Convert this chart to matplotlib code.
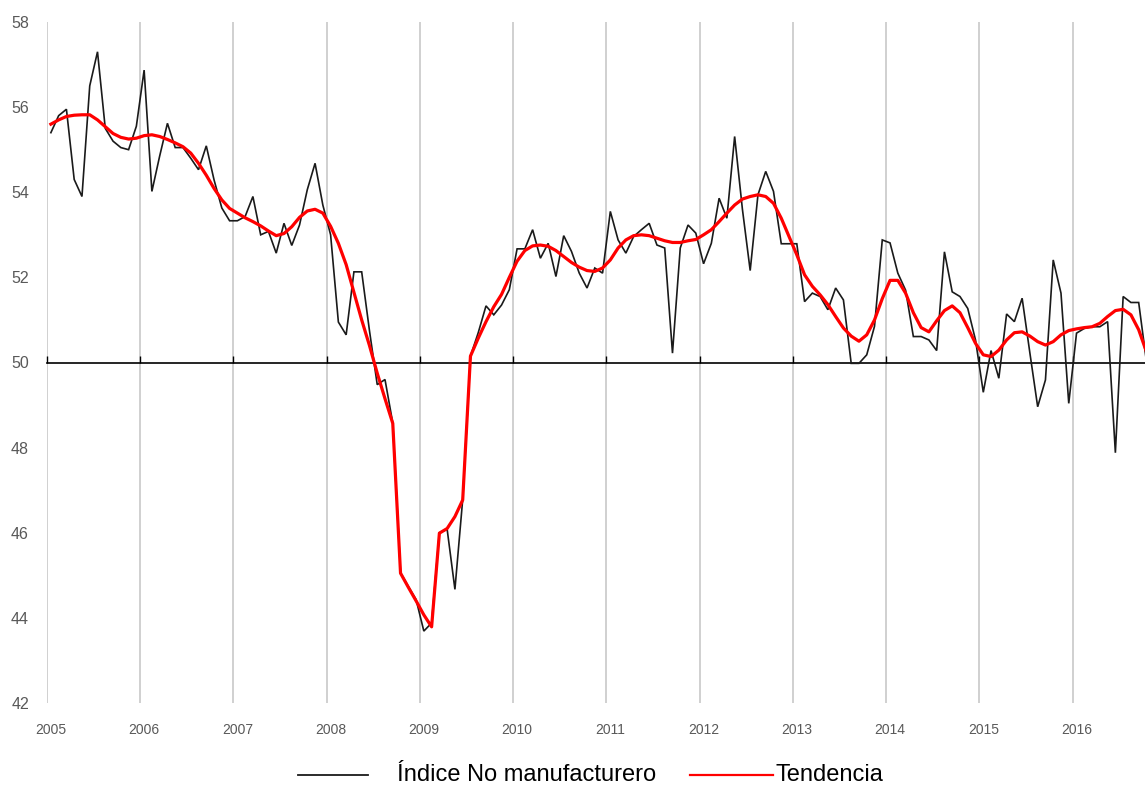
import numpy as np
import matplotlib
matplotlib.use("Agg")
import matplotlib.pyplot as plt
from matplotlib.transforms import blended_transform_factory
from matplotlib.lines import Line2D

# ---- data (monthly, Jan 2005 .. Oct 2016) ----
start_year = 2005
indice = [
    55.4, 55.8, 55.95, 54.3, 53.9, 56.5, 57.3, 55.5, 55.2, 55.05, 55.0, 55.55,
    56.87, 54.02, 54.85, 55.62, 55.05, 55.05, 54.8, 54.53, 55.09, 54.29, 53.63, 53.33,
    53.33, 53.43, 53.9, 53.0, 53.08, 52.57, 53.27, 52.75, 53.23, 54.06, 54.68, 53.7,
    53.0, 50.95, 50.65, 52.13, 52.13, 50.75, 49.48, 49.6, 48.58, 45.06, 44.74, 44.43,
    43.69, 43.88, 46.0, 46.08, 44.67, 46.78, 50.15, 50.7, 51.33, 51.12, 51.35, 51.71,
    52.67, 52.67, 53.12, 52.45, 52.8, 52.02, 52.98, 52.61, 52.1, 51.75, 52.22, 52.1,
    53.55, 52.88, 52.57, 52.96, 53.12, 53.27, 52.76, 52.69, 50.22, 52.69, 53.23, 53.04,
    52.32, 52.8, 53.86, 53.39, 55.31, 53.6, 52.16, 53.94, 54.49, 54.02, 52.79, 52.79,
    52.79, 51.43, 51.63, 51.55, 51.24, 51.75, 51.47, 49.98, 49.98, 50.18, 50.85, 52.88,
    52.81, 52.1, 51.7, 50.61, 50.61, 50.53, 50.28, 52.6, 51.66, 51.55, 51.27, 50.53,
    49.3, 50.28, 49.63, 51.14, 50.96, 51.51, 50.22, 48.96, 49.59, 52.41, 51.63, 49.04,
    50.69, 50.8, 50.84, 50.84, 50.96, 47.88, 51.55, 51.41, 51.41, 50.02,
]
tendencia = [
    55.6, 55.7, 55.78, 55.81, 55.82, 55.82, 55.7, 55.54, 55.38, 55.29, 55.25, 55.27,
    55.33, 55.35, 55.31, 55.24, 55.16, 55.07, 54.92, 54.68, 54.4, 54.09, 53.82, 53.62,
    53.51, 53.4, 53.31, 53.21, 53.09, 52.98, 53.03, 53.19, 53.41, 53.56, 53.6, 53.51,
    53.2, 52.8, 52.3, 51.65, 51.0, 50.4, 49.75, 49.15, 48.57, 45.05, 44.72, 44.4,
    44.07, 43.79, 45.99, 46.1, 46.38, 46.77, 50.15, 50.57, 50.96, 51.31, 51.6, 52.0,
    52.38, 52.63, 52.74, 52.76, 52.73, 52.63, 52.49, 52.35, 52.24, 52.16, 52.14, 52.22,
    52.41, 52.69, 52.88, 52.98, 53.0, 52.98, 52.92, 52.86, 52.82, 52.82, 52.86, 52.89,
    53.0, 53.12, 53.31, 53.51, 53.7, 53.84, 53.9, 53.94, 53.9, 53.74, 53.39, 52.96,
    52.53, 52.06, 51.79, 51.59, 51.36, 51.08, 50.81, 50.62, 50.5, 50.65, 51.0, 51.5,
    51.93, 51.93, 51.63, 51.17, 50.82, 50.72, 50.98, 51.22, 51.33, 51.17, 50.82, 50.45,
    50.18, 50.14, 50.29, 50.53, 50.7, 50.72, 50.62, 50.49, 50.41, 50.49, 50.65, 50.75,
    50.79, 50.82, 50.84, 50.92, 51.08, 51.22, 51.25, 51.12, 50.77, 50.25,
]
years = list(range(2005, 2017))
yticks = [42, 44, 46, 48, 50, 52, 54, 56, 58]
series_names = ["Índice No manufacturero", "Tendencia"]

months = np.arange(len(indice))
x = start_year + (months + 0.5) / 12.0

W, H = 1145, 787
fig = plt.figure(figsize=(W / 100, H / 100), dpi=100)
left, right, top, bottom = 47, 1145, 22, 703
ax = fig.add_axes([left / W, 1 - bottom / H, (right - left) / W, (bottom - top) / H])

font = "Liberation Sans"
gray_txt = "#595959"

ax.plot(x, indice, color="#1a1a1a", lw=1.2, zorder=3, solid_joinstyle="miter")
ax.plot(x, tendencia, color="#ff0000", lw=2.3, zorder=4, solid_joinstyle="round")

ax.set_xlim(2005, 2005 + (right - left) / 93.24)
ax.set_ylim(42, 58)

ax.set_xticks(years)
ax.grid(axis="x", color="#c8c8c8", lw=1.2, zorder=0)
for gl in ax.get_xgridlines():
    gl.set_clip_on(False)
ax.set_yticks(yticks)
ax.set_yticklabels([str(v) for v in yticks], fontsize=11.5, color=gray_txt, family=font)
ax.tick_params(axis="y", length=0, pad=13)

for s in ["top", "right", "left"]:
    ax.spines[s].set_visible(False)
ax.spines["bottom"].set_position(("data", 50))
ax.spines["bottom"].set_color("#000000")
ax.spines["bottom"].set_linewidth(1.2)
ax.spines["bottom"].set_zorder(2)
ax.tick_params(axis="x", direction="in", length=5, width=1.0, color="#000000",
               labelbottom=False)

trans = blended_transform_factory(ax.transData, ax.transAxes)
ylab = -(730 - bottom) / (bottom - top)
for yr in years:
    ax.text(yr + 0.5 / 12, ylab, str(yr), transform=trans, ha="center", va="center",
            fontsize=10, color=gray_txt, family=font)

# legend (manual)
ly = 1 - 775 / H
fig.add_artist(Line2D([298 / W, 368 / W], [ly, ly], color="#1a1a1a", lw=1.3))
fig.text(397 / W, ly, series_names[0], fontsize=17, family=font, va="center", ha="left",
         color="#000000")
fig.add_artist(Line2D([690 / W, 773 / W], [ly, ly], color="#ff0000", lw=1.6))
fig.text(776 / W, ly, series_names[1], fontsize=17, family=font, va="center", ha="left",
         color="#000000")

fig.savefig("out.png", dpi=100)
